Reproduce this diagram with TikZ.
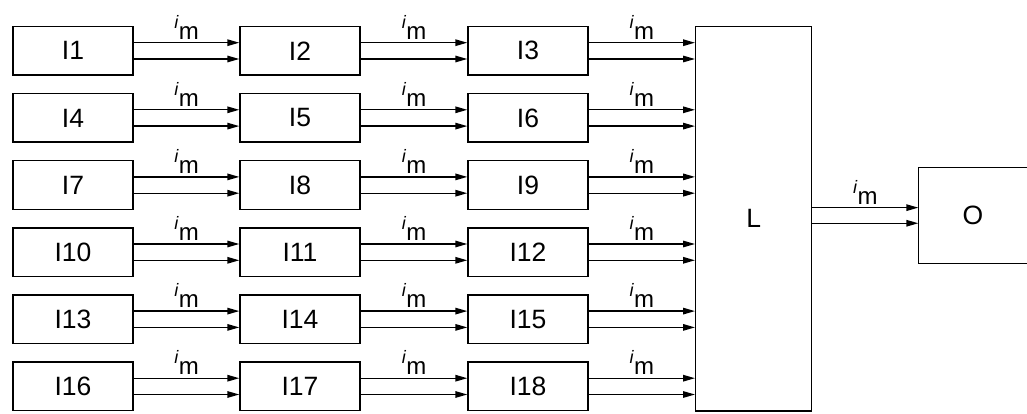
\documentclass[tikz,border=0pt]{standalone}
\usepackage{fontspec}
\setmainfont{Liberation Sans}
\usetikzlibrary{arrows.meta,calc}
\newcommand{\imlab}{\raisebox{11pt}{\fontsize{18}{18}\selectfont\itshape i}\hspace{0.5pt}\fontsize{24}{24}\selectfont m}
\begin{document}
\begin{tikzpicture}[x=1pt,y=-1pt,
  box/.style={draw,line width=1.4pt,minimum width=120pt,minimum height=48.5pt,inner sep=0pt,font=\fontsize{26.5}{26.5}\selectfont},
  sig/.style={line width=1.4pt,-{Triangle[length=12pt,width=6.5pt]}},
  lab/.style={inner sep=0pt,anchor=base}]
\useasboundingbox (0,0) rectangle (1027,414);
% blocks
\foreach \r in {0,...,5}{
  \pgfmathsetmacro\yy{50.8+67.1*\r}
  \foreach \c/\xx in {0/73,1/300,2/528}{
    \pgfmathtruncatemacro\n{3*\r+\c+1}
    \node[box] (I\n) at (\xx,\yy) {I\n};
  }
}
\node[box,minimum width=116pt,minimum height=384.3pt] (L) at (753.7,218.85) {L};
\node[box,draw=none,minimum width=108pt,minimum height=94.7pt] (O) at (973,215.35) {O};
\draw[line width=1.4pt] (O.north east) -- (O.north west) -- (O.south west) -- (O.south east);
% connectors
\foreach \r in {0,...,5}{
  \pgfmathtruncatemacro\a{3*\r+1}
  \pgfmathtruncatemacro\b{3*\r+2}
  \pgfmathtruncatemacro\c{3*\r+3}
  \draw[sig] ($(I\a.east)+(0,-8.1)$) -- ($(I\b.west)+(0,-8.1)$);
  \draw[sig] ($(I\a.east)+(0,8.2)$) -- ($(I\b.west)+(0,8.2)$);
  \node[lab] (la\r) at ($(I\a.east)!0.5!(I\b.west)+(0,-11.5)$) {\imlab};
  \draw[sig] ($(I\b.east)+(0,-8.1)$) -- ($(I\c.west)+(0,-8.1)$);
  \draw[sig] ($(I\b.east)+(0,8.2)$) -- ($(I\c.west)+(0,8.2)$);
  \node[lab] (lb\r) at ($(I\b.east)!0.5!(I\c.west)+(0,-11.5)$) {\imlab};
  \coordinate (t\r) at ($(I\c.east)+(0,-8.1)$);
  \coordinate (s\r) at ($(I\c.east)+(0,8.2)$);
  \draw[sig] (t\r) -- (t\r -| L.west);
  \draw[sig] (s\r) -- (s\r -| L.west);
  \node[lab] (lc\r) at ($(t\r)!0.5!(t\r -| L.west)+(0,-3.4)$) {\imlab};
}
\coordinate (u1) at ($(O.west)+(0,-7.7)$);
\coordinate (u2) at ($(O.west)+(0,7.9)$);
\draw[sig] (u1 -| L.east) -- (u1);
\draw[sig] (u2 -| L.east) -- (u2);
\node[lab] (lo) at ($(u1 -| L.east)!0.5!(u1)+(0,-3.6)$) {\imlab};
\end{tikzpicture}
\end{document}
